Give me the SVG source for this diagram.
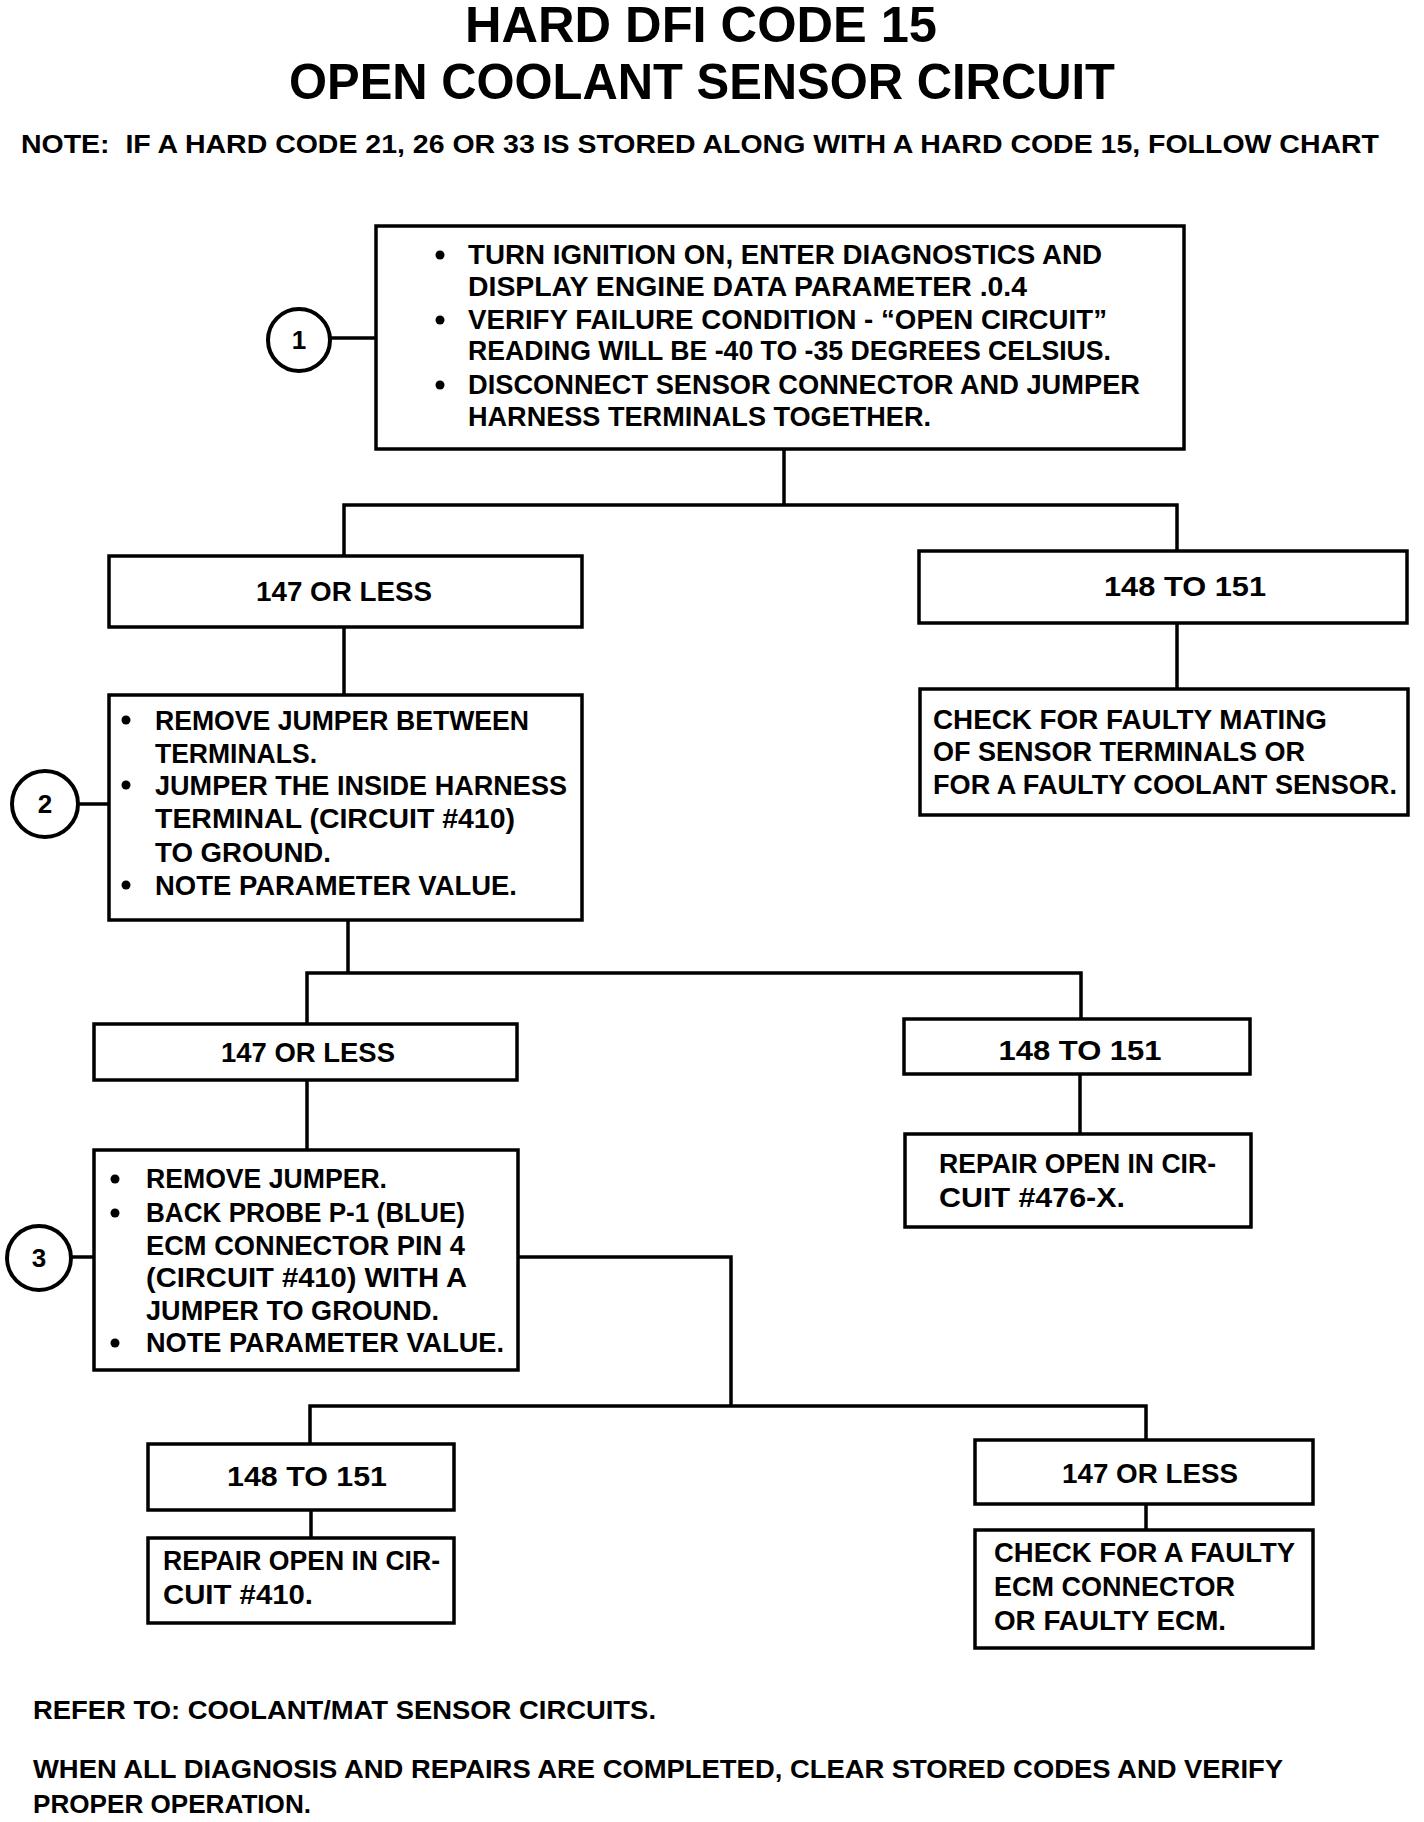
<svg xmlns="http://www.w3.org/2000/svg" width="1424" height="1822" viewBox="0 0 1424 1822">
<style>
  text { font-family: "Liberation Sans", Arial, Helvetica, sans-serif; font-weight: bold; fill: #000; }
  .title { font-size: 50px; text-anchor: middle; }
  .note { font-size: 26px; }
  .t { font-size: 27px; }
  .c { font-size: 27px; text-anchor: middle; }
  .num { font-size: 26px; text-anchor: middle; }
  .box { fill: #fff; stroke: #000; stroke-width: 3.5; }
  .ring { fill: #fff; stroke: #000; stroke-width: 4; }
  .wire { fill: none; stroke: #000; stroke-width: 3.5; stroke-linejoin: miter; stroke-linecap: square; }
  .dot { fill: #000; }
</style>
<rect width="1424" height="1822" fill="#fff"/>

<g id="header">
  <text class="title" x="701" y="42" textLength="472" lengthAdjust="spacingAndGlyphs">HARD DFI CODE 15</text>
  <text class="title" x="702" y="99" textLength="826" lengthAdjust="spacingAndGlyphs">OPEN COOLANT SENSOR CIRCUIT</text>
  <text class="note" x="21" y="153" textLength="1358" lengthAdjust="spacingAndGlyphs">NOTE:&#160; IF A HARD CODE 21, 26 OR 33 IS STORED ALONG WITH A HARD CODE 15, FOLLOW CHART</text>
</g>

<g id="connectors">
  <path class="wire" d="M330 338 H376"/>
  <path class="wire" d="M784 449 V505 M344 556 V505 H1177 V551"/>
  <path class="wire" d="M344 627 V695"/>
  <path class="wire" d="M1177 623 V689"/>
  <path class="wire" d="M78 804 H109"/>
  <path class="wire" d="M348 920 V973 M307 1024 V973 H1081 V1019"/>
  <path class="wire" d="M307 1080 V1150"/>
  <path class="wire" d="M1080 1074 V1134"/>
  <path class="wire" d="M71 1257 H94"/>
  <path class="wire" d="M518 1257 H731 V1406 M310 1444 V1406 H1146 V1440"/>
  <path class="wire" d="M311 1510 V1538"/>
  <path class="wire" d="M1146 1504 V1530"/>
</g>

<g id="step1">
  <circle class="ring" cx="299" cy="340" r="31"/>
  <text class="num" x="299" y="349">1</text>
</g>
<g id="box1">
  <rect class="box" x="376" y="226" width="808" height="223"/>
  <circle class="dot" cx="440" cy="255" r="4.5"/>
  <text class="t" x="468" y="264" textLength="634" lengthAdjust="spacingAndGlyphs">TURN IGNITION ON, ENTER DIAGNOSTICS AND</text>
  <text class="t" x="468" y="296" textLength="559" lengthAdjust="spacingAndGlyphs">DISPLAY ENGINE DATA PARAMETER .0.4</text>
  <circle class="dot" cx="440" cy="320" r="4.5"/>
  <text class="t" x="468" y="329" textLength="639" lengthAdjust="spacingAndGlyphs">VERIFY FAILURE CONDITION - “OPEN CIRCUIT”</text>
  <text class="t" x="468" y="360" textLength="643" lengthAdjust="spacingAndGlyphs">READING WILL BE -40 TO -35 DEGREES CELSIUS.</text>
  <circle class="dot" cx="440" cy="385" r="4.5"/>
  <text class="t" x="468" y="394" textLength="672" lengthAdjust="spacingAndGlyphs">DISCONNECT SENSOR CONNECTOR AND JUMPER</text>
  <text class="t" x="468" y="426" textLength="463" lengthAdjust="spacingAndGlyphs">HARNESS TERMINALS TOGETHER.</text>
</g>

<g id="a1">
  <rect class="box" x="109" y="556" width="473" height="71"/>
  <text class="c" x="344" y="601" textLength="176" lengthAdjust="spacingAndGlyphs">147 OR LESS</text>
</g>
<g id="b1">
  <rect class="box" x="919" y="551" width="488" height="72"/>
  <text class="c" x="1185" y="596" textLength="162" lengthAdjust="spacingAndGlyphs">148 TO 151</text>
</g>
<g id="b2">
  <rect class="box" x="920" y="689" width="488" height="126"/>
  <text class="t" x="933" y="729" textLength="394" lengthAdjust="spacingAndGlyphs">CHECK FOR FAULTY MATING</text>
  <text class="t" x="933" y="761" textLength="372" lengthAdjust="spacingAndGlyphs">OF SENSOR TERMINALS OR</text>
  <text class="t" x="933" y="794" textLength="464" lengthAdjust="spacingAndGlyphs">FOR A FAULTY COOLANT SENSOR.</text>
</g>

<g id="step2">
  <circle class="ring" cx="45" cy="804" r="33"/>
  <text class="num" x="45" y="813">2</text>
</g>
<g id="box2">
  <rect class="box" x="109" y="695" width="473" height="225"/>
  <circle class="dot" cx="126" cy="720" r="4.5"/>
  <text class="t" x="155" y="730" textLength="374" lengthAdjust="spacingAndGlyphs">REMOVE JUMPER BETWEEN</text>
  <text class="t" x="155" y="763" textLength="162" lengthAdjust="spacingAndGlyphs">TERMINALS.</text>
  <circle class="dot" cx="126" cy="785" r="4.5"/>
  <text class="t" x="155" y="795" textLength="412" lengthAdjust="spacingAndGlyphs">JUMPER THE INSIDE HARNESS</text>
  <text class="t" x="155" y="828" textLength="360" lengthAdjust="spacingAndGlyphs">TERMINAL (CIRCUIT #410)</text>
  <text class="t" x="155" y="862" textLength="176" lengthAdjust="spacingAndGlyphs">TO GROUND.</text>
  <circle class="dot" cx="126" cy="885" r="4.5"/>
  <text class="t" x="155" y="895" textLength="362" lengthAdjust="spacingAndGlyphs">NOTE PARAMETER VALUE.</text>
</g>

<g id="a2">
  <rect class="box" x="94" y="1024" width="423" height="56"/>
  <text class="c" x="308" y="1062" textLength="174" lengthAdjust="spacingAndGlyphs">147 OR LESS</text>
</g>
<g id="b3">
  <rect class="box" x="904" y="1019" width="346" height="55"/>
  <text class="c" x="1080" y="1060" textLength="163" lengthAdjust="spacingAndGlyphs">148 TO 151</text>
</g>
<g id="b4">
  <rect class="box" x="905" y="1134" width="346" height="93"/>
  <text class="t" x="939" y="1173" textLength="277" lengthAdjust="spacingAndGlyphs">REPAIR OPEN IN CIR-</text>
  <text class="t" x="939" y="1207" textLength="186" lengthAdjust="spacingAndGlyphs">CUIT #476-X.</text>
</g>

<g id="step3">
  <circle class="ring" cx="39" cy="1258" r="32"/>
  <text class="num" x="39" y="1267">3</text>
</g>
<g id="box3">
  <rect class="box" x="94" y="1150" width="424" height="220"/>
  <circle class="dot" cx="115" cy="1179" r="4.5"/>
  <text class="t" x="146" y="1188" textLength="241" lengthAdjust="spacingAndGlyphs">REMOVE JUMPER.</text>
  <circle class="dot" cx="115" cy="1213" r="4.5"/>
  <text class="t" x="146" y="1222" textLength="319" lengthAdjust="spacingAndGlyphs">BACK PROBE P-1 (BLUE)</text>
  <text class="t" x="146" y="1255" textLength="319" lengthAdjust="spacingAndGlyphs">ECM CONNECTOR PIN 4</text>
  <text class="t" x="146" y="1287" textLength="321" lengthAdjust="spacingAndGlyphs">(CIRCUIT #410) WITH A</text>
  <text class="t" x="146" y="1320" textLength="293" lengthAdjust="spacingAndGlyphs">JUMPER TO GROUND.</text>
  <circle class="dot" cx="115" cy="1343" r="4.5"/>
  <text class="t" x="146" y="1352" textLength="358" lengthAdjust="spacingAndGlyphs">NOTE PARAMETER VALUE.</text>
</g>

<g id="c1">
  <rect class="box" x="148" y="1444" width="306" height="66"/>
  <text class="c" x="307" y="1486" textLength="160" lengthAdjust="spacingAndGlyphs">148 TO 151</text>
</g>
<g id="c2">
  <rect class="box" x="148" y="1538" width="306" height="85"/>
  <text class="t" x="163" y="1570" textLength="277" lengthAdjust="spacingAndGlyphs">REPAIR OPEN IN CIR-</text>
  <text class="t" x="163" y="1604" textLength="150" lengthAdjust="spacingAndGlyphs">CUIT #410.</text>
</g>
<g id="d1">
  <rect class="box" x="975" y="1440" width="338" height="64"/>
  <text class="c" x="1150" y="1483" textLength="176" lengthAdjust="spacingAndGlyphs">147 OR LESS</text>
</g>
<g id="d2">
  <rect class="box" x="975" y="1530" width="338" height="118"/>
  <text class="t" x="994" y="1562" textLength="301" lengthAdjust="spacingAndGlyphs">CHECK FOR A FAULTY</text>
  <text class="t" x="994" y="1596" textLength="241" lengthAdjust="spacingAndGlyphs">ECM CONNECTOR</text>
  <text class="t" x="994" y="1630" textLength="232" lengthAdjust="spacingAndGlyphs">OR FAULTY ECM.</text>
</g>

<g id="footer">
  <text class="note" x="33" y="1719" textLength="623" lengthAdjust="spacingAndGlyphs">REFER TO: COOLANT/MAT SENSOR CIRCUITS.</text>
  <text class="note" x="33" y="1778" textLength="1250" lengthAdjust="spacingAndGlyphs">WHEN ALL DIAGNOSIS AND REPAIRS ARE COMPLETED, CLEAR STORED CODES AND VERIFY</text>
  <text class="note" x="33" y="1813" textLength="278" lengthAdjust="spacingAndGlyphs">PROPER OPERATION.</text>
</g>
</svg>
